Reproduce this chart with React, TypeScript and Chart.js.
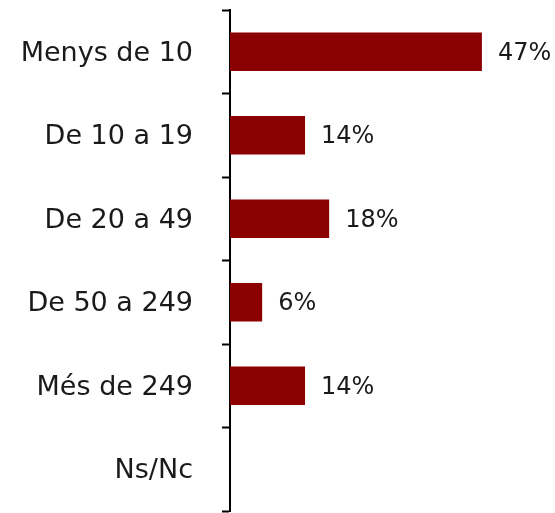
import React, { useEffect, useRef } from "react";
import { Chart, registerables } from "chart.js";

Chart.register(...registerables);

const categories = ["Menys de 10", "De 10 a 19", "De 20 a 49", "De 50 a 249", "Més de 249", "Ns/Nc"];
const values = [47, 14, 18.5, 6, 14, 0];
const valueLabels = ["47%", "14%", "18%", "6%", "14%", ""];

const FONT = "'DejaVu Sans', sans-serif";

const valueLabelPlugin = {
  id: "valueLabels",
  afterDatasetsDraw(chart: any) {
    const { ctx } = chart;
    const meta = chart.getDatasetMeta(0);
    ctx.save();
    ctx.font = `24px ${FONT}`;
    ctx.fillStyle = "#1a1a1a";
    ctx.textAlign = "left";
    ctx.textBaseline = "middle";
    meta.data.forEach((bar: any, i: number) => {
      const label = valueLabels[i];
      if (!label) return;
      ctx.fillText(label, bar.x + 16, bar.y + 2);
    });
    ctx.restore();
  },
};

export default function App() {
  const canvasRef = useRef<HTMLCanvasElement | null>(null);

  useEffect(() => {
    if (!canvasRef.current) return;
    const chart = new Chart(canvasRef.current, {
      type: "bar",
      data: {
        labels: categories,
        datasets: [
          {
            data: values,
            backgroundColor: "#8B0000",
            borderWidth: 0,
            barPercentage: 0.46,
            categoryPercentage: 1,
          },
        ],
      },
      options: {
        indexAxis: "y",
        animation: false,
        responsive: false,
        maintainAspectRatio: false,
        layout: { padding: { top: 10, bottom: 2, left: 0, right: 57 } },
        plugins: {
          legend: { display: false },
          tooltip: { enabled: false },
        },
        scales: {
          x: {
            display: false,
            min: 0,
            max: 50,
          },
          y: {
            afterFit: (scale: any) => {
              scale.width = 230;
              scale.paddingTop = 0;
              scale.paddingBottom = 0;
            },
            border: { display: true, color: "#000", width: 2 },
            grid: {
              offset: true,
              drawOnChartArea: false,
              drawTicks: true,
              tickLength: 8,
              tickWidth: 2,
              tickColor: "#000",
            },
            ticks: {
              color: "#1a1a1a",
              padding: 29,
              labelOffset: 2,
              font: { family: FONT, size: 27 },
            },
          },
        },
      },
      plugins: [valueLabelPlugin],
    });
    return () => chart.destroy();
  }, []);

  return (
    <div style={{ position: "fixed", left: 0, top: 0, width: 555, height: 513, background: "#fff" }}>
      <canvas ref={canvasRef} width={555} height={513} style={{ display: "block" }} />
    </div>
  );
}
